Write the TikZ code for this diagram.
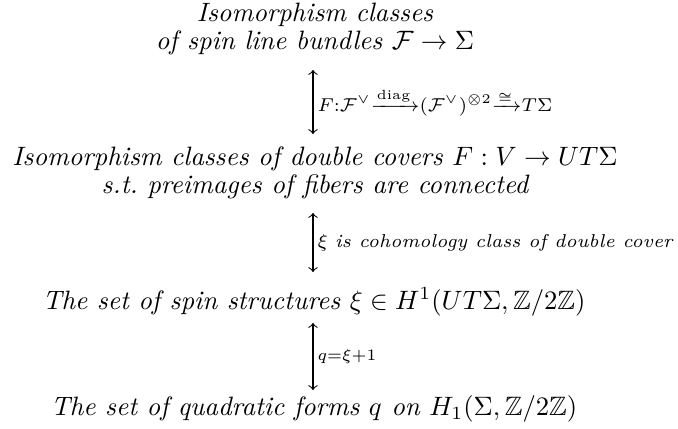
\documentclass[tikz,border=0pt]{standalone}
\usepackage{amsmath,amssymb}
\begin{document}
\begin{tikzpicture}[x=0.376pt, y=-0.376pt, line join=round,
    setline/.style={font=\fontsize{10}{10.4}\selectfont\itshape, align=center, inner sep=0pt},
    corr/.style={<->, thin},
    corrlbl/.style={right, font=\scriptsize, inner sep=1.5pt}]
    \useasboundingbox (0,0) rectangle (678,428);

    % The four sets, top to bottom
    \node[setline] (bundles) at (315,29)
      {Isomorphism classes\\ of spin line bundles $\mathcal{F}\to\Sigma$};
    \node[setline] (covers) at (315,173)
      {Isomorphism classes of double covers $F:V\to UT\Sigma$\\
       s.t.\ preimages of fibers are connected};
    \node[setline] (spin) at (314,302)
      {The set of spin structures $\xi\in H^1(UT\Sigma,\mathbb{Z}/2\mathbb{Z})$};
    \node[setline] (quad) at (314,409)
      {The set of quadratic forms $q$ on $H_1(\Sigma,\mathbb{Z}/2\mathbb{Z})$};

    % End points of the correspondences
    \coordinate (c1t) at (313,70);  \coordinate (c1b) at (313,134);
    \coordinate (c2t) at (313,213); \coordinate (c2b) at (313,272);
    \coordinate (c3t) at (313,323); \coordinate (c3b) at (313,390);

    % Correspondences with their labels
    \draw[corr] (c1t) -- node[corrlbl]
      {$F{:}\mathcal{F}^\vee{\xrightarrow{\text{diag}}}(\mathcal{F}^\vee)^{\otimes 2}{\xrightarrow{\cong}}T\Sigma$} (c1b);
    \draw[corr] (c2t) -- node[corrlbl]
      {$\xi$ \itshape is cohomology class of double cover} (c2b);
    \draw[corr] (c3t) -- node[corrlbl, font=\fontsize{6.3}{8}\selectfont] {$q{=}\xi{+}1$} (c3b);
  \end{tikzpicture}
\end{document}
